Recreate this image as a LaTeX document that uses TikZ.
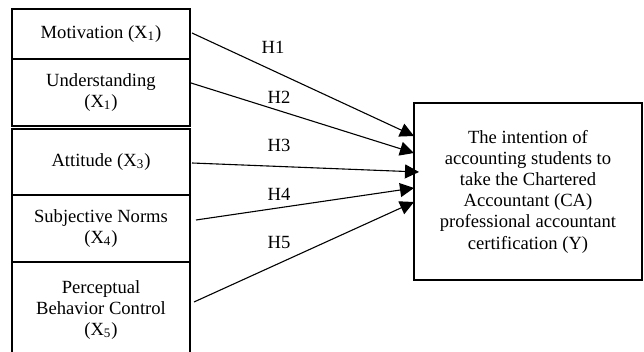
\documentclass[tikz,border=0pt]{standalone}
\usepackage{fontspec}
\setmainfont{Liberation Serif}
\usetikzlibrary{arrows.meta}
\tikzset{
  varbox/.style={draw, line width=0.8pt, minimum width=89pt, inner sep=0pt, outer sep=0pt, align=center},
  ybox/.style={draw, line width=1.4pt, minimum width=114pt, minimum height=88.5pt, inner sep=0pt, outer sep=0pt, align=center},
  hyp/.style={line width=0.55pt, -{Triangle[length=7pt,width=7pt]}},
  hlabel/.style={inner sep=0pt}
}
\begin{document}
\begin{tikzpicture}[x=0.5pt,y=-0.5pt, node font=\fontsize{9.3}{10.6}\selectfont]
  \clip (0,0) rectangle (644,352);
  \node[varbox, minimum height=25pt] (mot) at (101,34) {Motivation (X\textsubscript{1})};
  \node[varbox, minimum height=33.5pt] (und) at (101,92.5) {Understanding\\(X\textsubscript{1})};
  \node[varbox, minimum height=33pt] (att) at (101,162) {Attitude (X\textsubscript{3})};
  \node[varbox, minimum height=33.5pt] (sub) at (101,228.5) {Subjective Norms\\(X\textsubscript{4})};
  \node[varbox, minimum height=48pt] (per) at (101,310) {Perceptual\\Behavior Control\\(X\textsubscript{5})};
  \node[ybox] (y) at (528,191.5) {The intention of\\accounting students to\\take the Chartered\\Accountant (CA)\\professional accountant\\certification (Y)};
  \draw[hyp] ([xshift=1pt,yshift=0.5pt]mot.east) -- ([yshift=27.75pt]y.west);
  \draw[hyp] ([xshift=0.5pt,yshift=4.75pt]und.east) -- ([yshift=19.25pt]y.west);
  \draw[hyp] ([xshift=1pt,yshift=-0.5pt]att.east) -- ([xshift=2.5pt,yshift=9.75pt]y.west);
  \draw[hyp] ([xshift=3pt,yshift=4.25pt]sub.east) -- ([yshift=1.75pt]y.west);
  \draw[hyp] ([xshift=2pt,yshift=4pt]per.east) -- ([yshift=-5.25pt]y.west);
  \node[hlabel] (h1) at (273,47) {H1};
  \node[hlabel] (h2) at (279,97) {H2};
  \node[hlabel] (h3) at (279,145) {H3};
  \node[hlabel] (h4) at (279,194) {H4};
  \node[hlabel] (h5) at (279,243) {H5};
\end{tikzpicture}
\end{document}
